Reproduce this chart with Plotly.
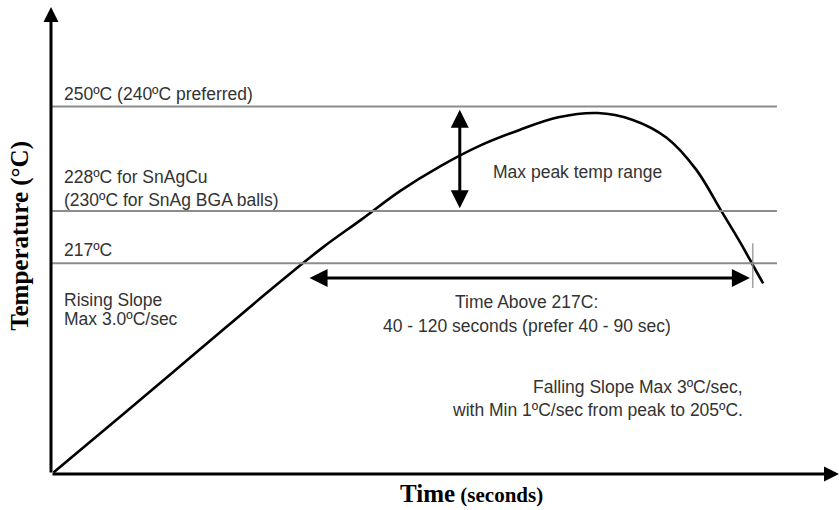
import plotly.graph_objects as go

# Reflow profile curve (time in seconds, temperature in degC)
time_s = [0.5, 15, 30, 45, 55, 63, 71, 79, 87, 95, 103,
          111, 118, 125, 131, 136, 140, 143, 144.6]
temp_c = [173.0, 185.6, 198.7, 211.8, 220.2, 226.2, 232.3, 237.4, 241.7, 245.0, 247.7,
          248.6, 247.2, 243.4, 236.7, 228.2, 221.3, 215.7, 212.8]

# Limit temperatures drawn as horizontal guide lines
limit_temps = [250, 228, 217]

# Left-side labels and the temperature each sits at
left_labels = ["250ºC (240ºC preferred)", "228ºC for SnAgCu<br>(230ºC for SnAg BGA balls)",
               "217ºC", "Rising Slope", "Max 3.0ºC/sec"]
left_label_temps = [252.6, 232.7, 219.8, 209.2, 205.2]

# Time above liquidus window (seconds)
tal_window = [52.2, 141.9]
# Peak temperature window (degC)
peak_window = [228.6, 249.6]

X_RANGE = [0, 160]
Y_RANGE = [172.7, 270.9]
TEXT_FONT = dict(family="Arial, Liberation Sans, sans-serif", size=17.5, color="#333333")
GUIDE_COLOR = "#8c8c8c"

fig = go.Figure()

fig.add_trace(go.Scatter(
    x=time_s, y=temp_c, mode="lines",
    line=dict(color="black", width=2.6, shape="spline", smoothing=1.0),
    hoverinfo="skip", showlegend=False,
))

# Horizontal limit lines
for t in limit_temps:
    fig.add_shape(type="line", xref="x", yref="y", x0=0, x1=147.4, y0=t, y1=t,
                  line=dict(color=GUIDE_COLOR, width=2))

# Small marker where the curve leaves the 217 line
fig.add_shape(type="line", xref="x", yref="y", x0=142.5, x1=142.5, y0=211.8, y1=221.2,
              line=dict(color=GUIDE_COLOR, width=1.2))

annotations = []

# Axes drawn as arrows
annotations.append(dict(x=0, y=Y_RANGE[1], ax=0, ay=Y_RANGE[0], xref="x", yref="y",
                        axref="x", ayref="y", text="", showarrow=True,
                        arrowhead=2, arrowsize=1.0, arrowwidth=3, arrowcolor="black"))
annotations.append(dict(x=X_RANGE[1], y=Y_RANGE[0], ax=0, ay=Y_RANGE[0], xref="x", yref="y",
                        axref="x", ayref="y", text="", showarrow=True,
                        arrowhead=2, arrowsize=1.0, arrowwidth=3, arrowcolor="black"))

# Peak temperature range double arrow
annotations.append(dict(x=83.0, y=peak_window[0], ax=83.0, ay=peak_window[1],
                        xref="x", yref="y", axref="x", ayref="y", text="", showarrow=True,
                        arrowside="end+start", arrowhead=2, startarrowhead=2,
                        arrowsize=1.2, startarrowsize=1.2, arrowwidth=3, arrowcolor="black"))

# Time above 217C double arrow
annotations.append(dict(x=tal_window[1], y=213.9, ax=tal_window[0], ay=213.9,
                        xref="x", yref="y", axref="x", ayref="y", text="", showarrow=True,
                        arrowside="end+start", arrowhead=2, startarrowhead=2,
                        arrowsize=1.2, startarrowsize=1.2, arrowwidth=3, arrowcolor="black"))

for txt, t in zip(left_labels, left_label_temps):
    annotations.append(dict(x=2.2, y=t, xref="x", yref="y", text=txt, showarrow=False,
                            xanchor="left", yanchor="middle", align="left", font=TEXT_FONT))

annotations.append(dict(x=89.3, y=236.2, xref="x", yref="y", text="Max peak temp range",
                        showarrow=False, xanchor="left", yanchor="middle", font=TEXT_FONT))
annotations.append(dict(x=96.6, y=208.8, xref="x", yref="y", text="Time Above 217C:",
                        showarrow=False, xanchor="center", yanchor="middle", font=TEXT_FONT))
annotations.append(dict(x=96.6, y=203.8, xref="x", yref="y",
                        text="40 - 120 seconds (prefer 40 - 90 sec)",
                        showarrow=False, xanchor="center", yanchor="middle", font=TEXT_FONT))
annotations.append(dict(x=141.0, y=190.9, xref="x", yref="y", text="Falling Slope Max 3ºC/sec,",
                        showarrow=False, xanchor="right", yanchor="middle", font=TEXT_FONT))
annotations.append(dict(x=141.0, y=186.1, xref="x", yref="y",
                        text="with Min 1ºC/sec from peak to 205ºC.",
                        showarrow=False, xanchor="right", yanchor="middle", font=TEXT_FONT))

# Axis titles
TITLE_FONT = dict(family="Liberation Serif, Times New Roman, serif", color="black")
annotations.append(dict(x=-0.0393, y=0.51, xref="paper", yref="paper",
                        text="<b>Temperature (°C)</b>", textangle=-90, showarrow=False,
                        xanchor="center", yanchor="middle", font=dict(size=25, **TITLE_FONT)))
annotations.append(dict(x=0.533, y=-0.0407, xref="paper", yref="paper",
                        text="<b><span style='font-size:25px'>Time</span> (seconds)</b>",
                        showarrow=False, xanchor="center", yanchor="middle",
                        font=dict(size=21, **TITLE_FONT)))

fig.update_layout(
    width=839, height=510,
    margin=dict(l=51, r=0, t=7, b=36),
    paper_bgcolor="white", plot_bgcolor="white",
    xaxis=dict(range=X_RANGE, visible=False, fixedrange=True),
    yaxis=dict(range=Y_RANGE, visible=False, fixedrange=True),
    annotations=annotations,
    showlegend=False,
)

fig.write_html("out.html")
